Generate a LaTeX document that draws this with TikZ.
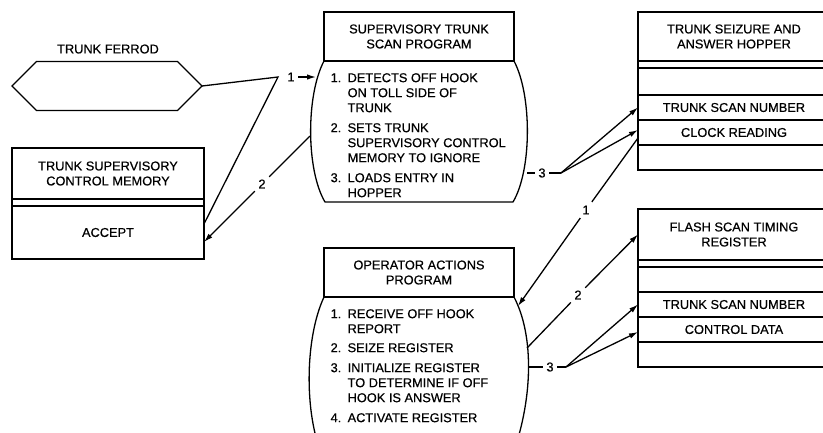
\documentclass[tikz,border=0pt]{standalone}
\usepackage{fontspec}
\setmainfont{Liberation Sans}[FakeBold=0.5]
\usetikzlibrary{arrows.meta, positioning, shapes.symbols}

\begin{document}
\begin{tikzpicture}[
  x=1pt, y=-1pt,
  line width=1.3pt,
  every node/.style={font=\fontsize{12.8}{15}\selectfont, align=center},
  row/.style={draw, minimum width=192pt, inner sep=0pt, outer sep=0pt},
  header/.style={row, minimum height=49pt},
  spacer/.style={row, minimum height=7pt},
  field/.style={row, minimum height=25pt},
  progbox/.style={draw, minimum width=190pt, minimum height=49pt,
                  inner sep=0pt, outer sep=0pt},
  steps/.style={align=left, inner sep=0pt, anchor=north west},
  num/.style={inner sep=3pt},
  arr/.style={-{Latex[length=9pt, width=5.5pt]}}
]
\useasboundingbox (0,0) rectangle (823,432);
\clip (0,0) rectangle (823,432);

% Left column — ferrod and memory
\node[draw, signal, signal to=east and west, minimum width=190pt,
      minimum height=49pt, inner sep=0pt, outer sep=0pt] (ferrod) at (107,86) {};
\node (ferrodLbl) at (108,49) {TRUNK FERROD};

\node[header, minimum height=51pt, anchor=north] (tscmHead) at (108,148) {TRUNK SUPERVISORY\\CONTROL MEMORY};
\node[spacer, below=0pt of tscmHead] (tscmGap) {};
\node[row, minimum height=53pt, below=0pt of tscmGap] (tscmAccept) {ACCEPT};

% Middle column — programs
\node[progbox] (stsHead) at (419,36.5) {SUPERVISORY TRUNK\\SCAN PROGRAM};
\draw (stsHead.south west) .. controls (306,95) and (306,170) .. (325,202)
  -- (513,202) .. controls (532,170) and (532,95) .. (stsHead.south east);
\node[steps] (stsSteps) at (330,71) {%
  \begin{tabular}{@{}p{17pt}@{}l@{}}
  1. & DETECTS OFF HOOK\\
     & ON TOLL SIDE OF\\
     & TRUNK\\[5pt]
  2. & SETS TRUNK\\
     & SUPERVISORY CONTROL\\
     & MEMORY TO IGNORE\\[5pt]
  3. & LOADS ENTRY IN\\
     & HOPPER
  \end{tabular}};

\node[progbox] (opHead) at (419,272.5) {OPERATOR ACTIONS\\PROGRAM};
\draw (opHead.south west) .. controls (304,340) and (304,420) .. (325,462)
  -- (510,462) .. controls (534,400) and (534,335) .. (opHead.south east);
\node[steps] (opSteps) at (330,307) {%
  \begin{tabular}{@{}p{17pt}@{}l@{}}
  1. & RECEIVE OFF HOOK\\
     & REPORT\\[4pt]
  2. & SEIZE REGISTER\\[5pt]
  3. & INITIALIZE REGISTER\\
     & TO DETERMINE IF OFF\\
     & HOOK IS ANSWER\\[5pt]
  4. & ACTIVATE REGISTER
  \end{tabular}};

% Right column — hopper and register
\node[header, anchor=north] (hopHead) at (734,12) {TRUNK SEIZURE AND\\ANSWER HOPPER};
\node[spacer, below=0pt of hopHead] (hopGap) {};
\node[field, minimum height=27pt, below=0pt of hopGap] (hopBlankA) {};
\node[field, below=0pt of hopBlankA] (hopTSN) {TRUNK SCAN NUMBER};
\node[field, below=0pt of hopTSN] (hopClock) {CLOCK READING};
\node[field, below=0pt of hopClock] (hopBlankB) {};

\node[header, minimum height=51pt, anchor=north] (flashHead) at (734,209) {FLASH SCAN TIMING\\REGISTER};
\node[spacer, below=0pt of flashHead] (flashGap) {};
\node[field, below=0pt of flashGap] (flashBlankA) {};
\node[field, below=0pt of flashBlankA] (flashTSN) {TRUNK SCAN NUMBER};
\node[field, below=0pt of flashTSN] (flashCtrl) {CONTROL DATA};
\node[field, below=0pt of flashCtrl] (flashBlankB) {};

% Step 1 / 2 of supervisory scan
\coordinate (jFerrod) at (278,77);
\coordinate (stsIn) at (316,77);
\node[num] (n1a) at (291,77) {1};
\draw (ferrod.east) -- (jFerrod) -- ([yshift=8.5pt]tscmAccept.east);
\draw[arr] (n1a) -- (stsIn);

\coordinate (stsOut2) at (310,136);
\node[num] (n2a) at (262,184) {2};
\draw (stsOut2) -- (n2a);
\draw[arr] (n2a) -- ([yshift=-9.5pt]tscmAccept.east);

% Step 3: load hopper
\coordinate (stsOut3) at (527,173);
\coordinate (jHop) at (561,173);
\node[num] (n3a) at (542,173) {3};
\draw (stsOut3) -- (n3a) -- (jHop);
\draw[arr] (jHop) -- (hopTSN.west);
\draw[arr] (jHop) -- ([yshift=2.5pt]hopClock.west);

% Operator actions
\coordinate (opIn1) at (518,306);
\node[num] (n1b) at (586,210) {1};
\draw ([yshift=-5.5pt]hopClock.west) -- (n1b);
\draw[arr] (n1b) -- (opIn1);

\coordinate (opOut2) at (527,348);
\node[num] (n2b) at (578,295) {2};
\draw (opOut2) -- (n2b);
\draw[arr] (n2b) -- (flashHead.west);

\coordinate (opOut3) at (528,367);
\coordinate (jFlash) at (566,367);
\node[num] (n3b) at (550,367) {3};
\draw (opOut3) -- (n3b) -- (jFlash);
\draw[arr] (jFlash) -- (flashTSN.west);
\draw[arr] (jFlash) -- ([yshift=-2.5pt]flashCtrl.west);

\end{tikzpicture}
\end{document}
